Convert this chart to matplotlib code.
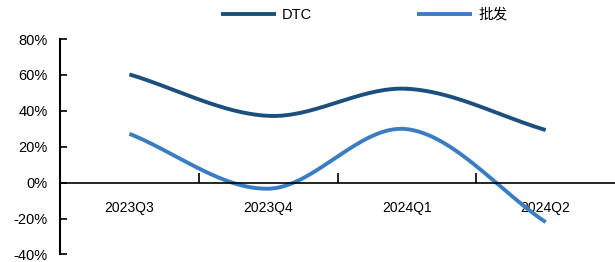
import numpy as np
import matplotlib
matplotlib.use("Agg")
import matplotlib.pyplot as plt

quarters = ["2023Q3", "2023Q4", "2024Q1", "2024Q2"]
dtc = [60.3, 37.2, 52.3, 29.3]
wholesale = [27.2, -3.4, 29.8, -22.0]

plt.rcParams['font.family'] = ['Liberation Sans', 'Noto Sans CJK SC', 'DejaVu Sans']


def smooth(ys, n=60):
    # catmull-rom style smoothing like excel's "smoothed line"
    ys = np.asarray(ys, dtype=float)
    p = np.concatenate([[2 * ys[0] - ys[1]], ys, [2 * ys[-1] - ys[-2]]])
    xs_out, ys_out = [], []
    for i in range(len(ys) - 1):
        p0, p1, p2, p3 = p[i], p[i + 1], p[i + 2], p[i + 3]
        t = np.linspace(0, 1, n)
        y = 0.5 * ((2 * p1) + (-p0 + p2) * t + (2 * p0 - 5 * p1 + 4 * p2 - p3) * t ** 2
                   + (-p0 + 3 * p1 - 3 * p2 + p3) * t ** 3)
        xs_out.append(i + t)
        ys_out.append(y)
    return np.concatenate(xs_out), np.concatenate(ys_out)


fig = plt.figure(figsize=(6.15, 2.62), dpi=100)
ax = fig.add_axes([0.0976, 0.029, 0.9024, 0.822])

x1, y1 = smooth(dtc)
x2, y2 = smooth(wholesale)
ax.plot(x1, y1, color='#1B4F7E', lw=2.8, label='DTC', solid_capstyle='butt')
ax.plot(x2, y2, color='#3A7DC0', lw=2.8, label='批发', solid_capstyle='butt')

ax.set_xlim(-0.5, 3.5)
ax.set_ylim(-40, 80)
ax.set_yticks(np.arange(-40, 81, 20))
ax.set_yticklabels([f"{v}%" for v in range(-40, 81, 20)], fontsize=10.5)
ax.tick_params(axis='y', direction='in', length=5, width=1.2, pad=9)

ax.set_xticks(range(len(quarters)))
ax.set_xticklabels(quarters, fontsize=11.5)
ax.set_xticks([0.5, 1.5, 2.5], minor=True)
ax.tick_params(axis='x', which='major', length=0, pad=13)
ax.tick_params(axis='x', which='minor', direction='in', length=7, width=1.2)

ax.spines['top'].set_visible(False)
ax.spines['right'].set_visible(False)
ax.spines['bottom'].set_position(('data', 0))
ax.spines['left'].set_linewidth(1.5)
ax.spines['bottom'].set_linewidth(1.2)

leg = fig.legend(loc='upper center', bbox_to_anchor=(0.592, 1.02), ncol=2, frameon=False,
                 fontsize=10.5, handlelength=3.8, columnspacing=7.2, handletextpad=0.4)

fig.savefig("out.png", dpi=100)
